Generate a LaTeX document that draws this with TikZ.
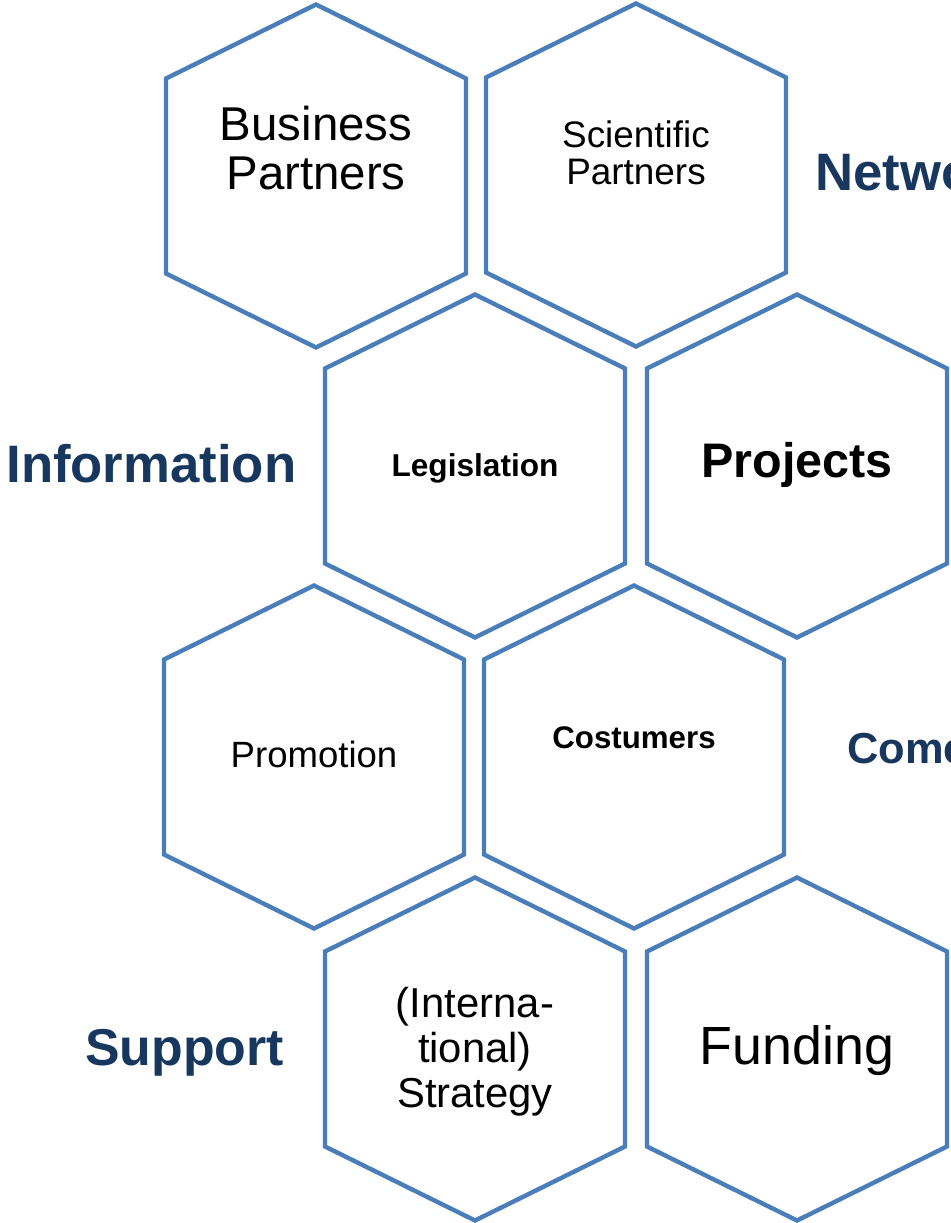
\documentclass[tikz,border=0pt]{standalone}
\usepackage{fontspec}
\setmainfont{Liberation Sans}
\usepackage{tikz}
\usetikzlibrary{positioning, calc}
\definecolor{hexline}{RGB}{74,126,187}
\definecolor{headblue}{RGB}{23,55,94}
\tikzset{
  hexa/.style={draw=hexline, line width=2.5pt, line join=miter},
  cell/.style={anchor=base, align=center, inner sep=0pt},
  head/.style={anchor=base west, inner sep=0pt, text=headblue, font=\bfseries\fontsize{30}{32}\selectfont}
}
\newcommand{\drawhex}[2]{\draw[hexa] (#1,#2) +(0,-171.5) -- +(150,-97.5) -- +(150,97.5) -- +(0,171.5) -- +(-150,97.5) -- +(-150,-97.5) -- cycle;}

\begin{document}
\begin{tikzpicture}[x=0.02cm, y=-0.02cm]
    \useasboundingbox (0,0) rectangle (950,1223);

    % hexagons
    \drawhex{316}{176}
    \drawhex{636}{175}
    \drawhex{475}{466}
    \drawhex{797}{466}
    \drawhex{314}{757}
    \drawhex{634}{757}
    \drawhex{475}{1049}
    \drawhex{797}{1049}

    % texts in the cells (base = last line)
    \node [cell, font=\fontsize{27}{28.4}\selectfont] (1) at (316,190) {Business\\Partners};
    \node [cell, font=\fontsize{21}{21.6}\selectfont] (2) at (636,185) {Scientific\\Partners};
    \node [cell, font=\bfseries\fontsize{18}{20}\selectfont] (3) at (475,476) {Legislation};
    \node [cell, font=\bfseries\fontsize{27.6}{30}\selectfont] (4) at (797,477) {Projects};
    \node [cell, font=\fontsize{20.8}{22}\selectfont] (5) at (314,767) {Promotion};
    \node [cell, font=\bfseries\fontsize{17.8}{19}\selectfont] (6) at (634,748) {Costumers};
    \node [cell, font=\fontsize{23.8}{25.4}\selectfont] (7) at (475,1107) {(Interna-\\tional)\\Strategy};
    \node [cell, font=\fontsize{30.6}{33}\selectfont] (8) at (797,1064) {Funding};

    % headings
    \node [head] (info) at (6,482) {Information};
    \node [head] (netw) at (815,191) {Netwo};
    \node [head, font=\bfseries\fontsize{24.7}{27}\selectfont] (come) at (847,763) {Come};
    \node [head, font=\bfseries\fontsize{29.5}{32}\selectfont] (supp) at (85,1065) {Support};

\end{tikzpicture}
\end{document}
